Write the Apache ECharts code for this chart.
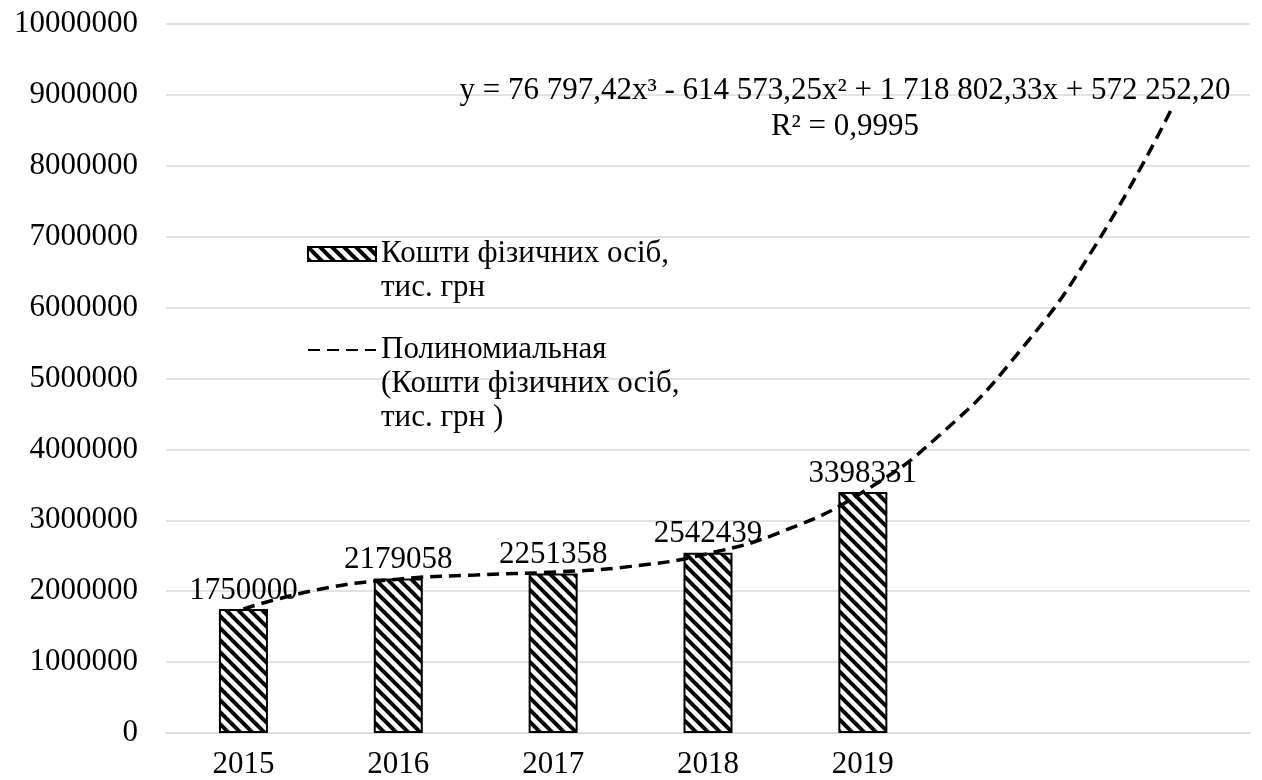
<!DOCTYPE html>
<html>
<head>
<meta charset="utf-8">
<script src="https://cdn.jsdelivr.net/npm/echarts@6/dist/echarts.min.js"></script>
<style>
  html, body { margin: 0; padding: 0; background: #fff; }
  #chart { width: 1262px; height: 780px; }
</style>
</head>
<body>
<div id="chart"></div>
<script>
// years on the category axis, two empty slots for the trend forecast
const years = ['2015', '2016', '2017', '2018', '2019', '', '']
const funds = [1750000, 2179058, 2251358, 2542439, 3398331]
// polynomial trend line (x = category number)
const trendX = [1, 1.5, 2, 2.5, 3, 3.5, 4, 4.5, 5, 5.5, 6, 6.5, 7]
const trendY = [1750000, 2030000, 2170000, 2230000, 2270000, 2350000, 2530000, 2860000, 3400000, 4210000, 5350000, 6870000, 8830000]
const yTicks = { min: 0, max: 10000000, step: 1000000 }

const barName = 'Кошти фізичних осіб,\nтис. грн'
const trendName = 'Полиномиальная\n(Кошти фізичних осіб,\nтис. грн )'
const equation = 'y = 76 797,42x³ - 614 573,25x² + 1 718 802,33x + 572 252,20\nR² = 0,9995'

const font = 'Liberation Serif'
const fs = 31

// hatch pattern for the bars
function hatch() {
  const c = document.createElement('canvas')
  c.width = 12
  c.height = 12
  const ctx = c.getContext('2d')
  ctx.fillStyle = '#fff'
  ctx.fillRect(0, 0, 12, 12)
  ctx.strokeStyle = '#000'
  ctx.lineWidth = 4
  for (const o of [-12, 0, 12]) {
    ctx.beginPath()
    ctx.moveTo(o - 2, -2)
    ctx.lineTo(o + 14, 14)
    ctx.stroke()
  }
  return c
}

const trendData = trendX.map((x, i) => [x, trendY[i]])

const chart = echarts.init(document.getElementById('chart'))
chart.setOption({
  animation: false,
  textStyle: { fontFamily: font, color: '#000' },
  title: {
    text: equation,
    left: 840,
    top: 68,
    textAlign: 'center',
    textStyle: { fontFamily: font, fontSize: fs, fontWeight: 'normal', color: '#000', lineHeight: 36 }
  },
  legend: {
    orient: 'vertical',
    left: 302,
    top: 198,
    itemWidth: 68,
    itemHeight: 14,
    itemGap: -40,
    data: [
      { name: barName, icon: 'rect' },
      { name: trendName, itemStyle: { opacity: 0 } }
    ],
    // pad with empty lines so the icon sits level with the first line
    formatter: function (name) {
      const n = name.split('\n').length
      return '\n'.repeat(n - 1) + name
    },
    textStyle: { fontFamily: font, fontSize: fs, color: '#000', lineHeight: 34 }
  },
  grid: {
    left: 166,
    right: 12,
    top: 24,
    bottom: 47
  },
  xAxis: [
    {
      type: 'category',
      data: years,
      axisLine: { lineStyle: { color: '#d9d9d9' } },
      axisTick: { show: false },
      axisLabel: { fontFamily: font, fontSize: fs, color: '#000', margin: 16, interval: 0 }
    },
    {
      type: 'value',
      min: 0.5,
      max: 7.5,
      show: false
    }
  ],
  yAxis: {
    type: 'value',
    min: yTicks.min,
    max: yTicks.max,
    interval: yTicks.step,
    axisLine: { show: false },
    axisTick: { show: false },
    axisLabel: { fontFamily: font, fontSize: fs, color: '#000', margin: 28, formatter: v => String(v) },
    splitLine: { lineStyle: { color: '#d9d9d9', width: 1.5 } }
  },
  series: [
    {
      name: barName,
      type: 'bar',
      data: funds,
      barWidth: 49,
      itemStyle: {
        color: { image: hatch(), repeat: 'repeat' },
        borderColor: '#000',
        borderWidth: 2
      },
      label: {
        show: true,
        position: 'top',
        distance: 3,
        fontFamily: font,
        fontSize: fs,
        color: '#000'
      },
      z: 2
    },
    {
      name: trendName,
      type: 'line',
      xAxisIndex: 1,
      data: trendData,
      smooth: true,
      symbol: 'none',
      lineStyle: { color: '#000', width: 3.5, type: [12, 7] },
      itemStyle: { color: '#000' },
      z: 5
    }
  ]
})
</script>
</body>
</html>
